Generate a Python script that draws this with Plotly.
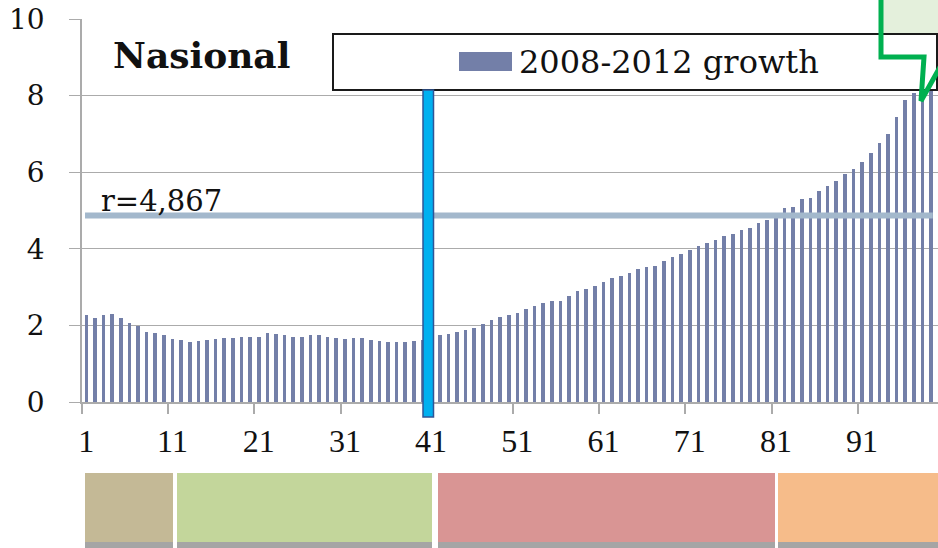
import plotly.graph_objects as go

# ---------------- data ----------------
percentiles = list(range(1, 101))
growth = [
    2.26, 2.19, 2.26, 2.29, 2.19, 2.07, 1.98, 1.84, 1.81, 1.75,
    1.65, 1.62, 1.56, 1.58, 1.62, 1.65, 1.68, 1.68, 1.71, 1.71,
    1.71, 1.81, 1.78, 1.75, 1.71, 1.71, 1.75, 1.75, 1.71, 1.68,
    1.65, 1.68, 1.68, 1.62, 1.58, 1.56, 1.56, 1.56, 1.58, 1.62,
    1.68, 1.76, 1.78, 1.84, 1.88, 1.94, 2.04, 2.14, 2.21, 2.27,
    2.33, 2.44, 2.50, 2.59, 2.63, 2.65, 2.76, 2.89, 2.95, 3.04,
    3.14, 3.24, 3.30, 3.36, 3.47, 3.53, 3.56, 3.68, 3.78, 3.87,
    3.96, 4.07, 4.16, 4.23, 4.33, 4.39, 4.49, 4.55, 4.68, 4.75,
    4.85, 5.07, 5.10, 5.29, 5.33, 5.52, 5.65, 5.78, 5.96, 6.08,
    6.26, 6.49, 6.75, 7.01, 7.43, 7.88, 8.08, 8.30, 8.60, 9.10,
]
series_name = "2008-2012 growth"
mean_r = 4.867
mean_label = "r=4,867"
region_title = "Nasional"
x_tick_vals = [1, 11, 21, 31, 41, 51, 61, 71, 81, 91]
x_tick_text = [str(v) for v in x_tick_vals]
y_tick_vals = [0, 2, 4, 6, 8, 10]

# ---------------- layout helpers ----------------
W, H = 938, 548
L, R, T, B = 82, 0, 19, 146
PW, PH = W - L - R, H - T - B


def px(xp):
    return (xp - L) / PW


def py(yp):
    return (H - B - yp) / PH


BAR = "#737FA8"
GRID = "#ABABAB"
SERIF = "DejaVu Serif"

fig = go.Figure()
fig.add_trace(go.Bar(
    x=percentiles, y=growth, name=series_name,
    marker=dict(color=BAR, line=dict(width=0)),
    width=0.42, showlegend=False,
))
fig.add_trace(go.Scatter(
    x=[0.85, 99.2], y=[mean_r, mean_r], mode="lines",
    line=dict(color="#A3B8CC", width=6), showlegend=False,
))

shapes = []
# colored groups below the axis
segs = [(85, 173, "#C4B996"), (177, 432, "#C3D69B"),
        (438, 775, "#D99594"), (778, 945, "#F6BC8A")]
for x0, x1, c in segs:
    shapes.append(dict(type="rect", xref="paper", yref="paper",
                       x0=px(x0), x1=px(x1), y0=py(542), y1=py(473),
                       fillcolor=c, line=dict(width=0), layer="above"))
    shapes.append(dict(type="rect", xref="paper", yref="paper",
                       x0=px(x0), x1=px(x1), y0=py(549), y1=py(542),
                       fillcolor="#A5A5A5", line=dict(width=0), layer="above"))

# green callout fill (top right)
shapes.append(dict(type="path", xref="paper", yref="paper",
                   path=f"M{px(881)},{py(-5)} L{px(881)},{py(57)} L{px(924)},{py(57)} "
                        f"L{px(921)},{py(101)} L{px(945)},{py(62)} L{px(945)},{py(-5)} Z",
                   fillcolor="#E4F0DC", line=dict(width=0), layer="above"))
# legend box
shapes.append(dict(type="rect", xref="paper", yref="paper",
                   x0=px(333), x1=px(937), y0=py(90), y1=py(34),
                   fillcolor="white", line=dict(color="#1A1A1A", width=2), layer="above"))
# legend swatch
shapes.append(dict(type="rect", xref="paper", yref="paper",
                   x0=px(459), x1=px(512), y0=py(71), y1=py(52),
                   fillcolor=BAR, line=dict(width=0), layer="above"))
# green callout outline
shapes.append(dict(type="path", xref="paper", yref="paper",
                   path=f"M{px(881)},{py(-5)} L{px(881)},{py(57)} L{px(924)},{py(57)} "
                        f"L{px(921)},{py(101)} L{px(945)},{py(58)}",
                   line=dict(color="#00B050", width=5), layer="above"))
# blue marker bar at percentile 41
shapes.append(dict(type="rect", xref="paper", yref="paper",
                   x0=px(423), x1=px(433.5), y0=py(417), y1=py(90),
                   fillcolor="#00B0F0", line=dict(color="#2F5597", width=1.5), layer="above"))

annotations = [
    dict(text=f"<b>{region_title}</b>", xref="paper", yref="paper",
         x=px(201), y=py(55), xanchor="center", yanchor="middle", showarrow=False,
         font=dict(family=SERIF, size=36, color="#111111")),
    dict(text=series_name, xref="paper", yref="paper",
         x=px(517), y=py(62), xanchor="left", yanchor="middle", showarrow=False,
         font=dict(family=SERIF, size=32, color="#111111")),
    dict(text=mean_label, xref="paper", yref="paper",
         x=px(99), y=py(201), xanchor="left", yanchor="middle", showarrow=False,
         font=dict(family=SERIF, size=29, color="#111111")),
]

fig.update_layout(
    width=W, height=H,
    margin=dict(l=L, r=R, t=T, b=B, pad=0),
    paper_bgcolor="white", plot_bgcolor="white",
    shapes=shapes, annotations=annotations,
    bargap=0,
    xaxis=dict(
        range=[0.5, 0.5 + PW / 8.62],
        tickmode="array", tickvals=x_tick_vals, ticktext=x_tick_text,
        ticks="", showgrid=False, zeroline=False,
        showline=True, linecolor=GRID, linewidth=1.5,
        tickfont=dict(family="Liberation Serif", size=32, color="#111111"),
        ticklabelstandoff=10,
        minor=dict(tickmode="array",
                   tickvals=[v - 0.5 for v in x_tick_vals],
                   ticks="outside", ticklen=10, tickcolor=GRID, tickwidth=1.5,
                   showgrid=False),
    ),
    yaxis=dict(
        range=[0, 10], tickmode="array", tickvals=y_tick_vals,
        ticks="outside", ticklen=11, tickcolor=GRID, tickwidth=1.2,
        showgrid=True, gridcolor=GRID, gridwidth=1.2,
        zeroline=False, showline=True, linecolor=GRID, linewidth=1.5,
        tickfont=dict(family=SERIF, size=28, color="#111111"),
        ticklabelstandoff=19,
    ),
)

fig.write_html("out.html", config={"displayModeBar": False},
               post_script="document.body.style.margin='0px';")
